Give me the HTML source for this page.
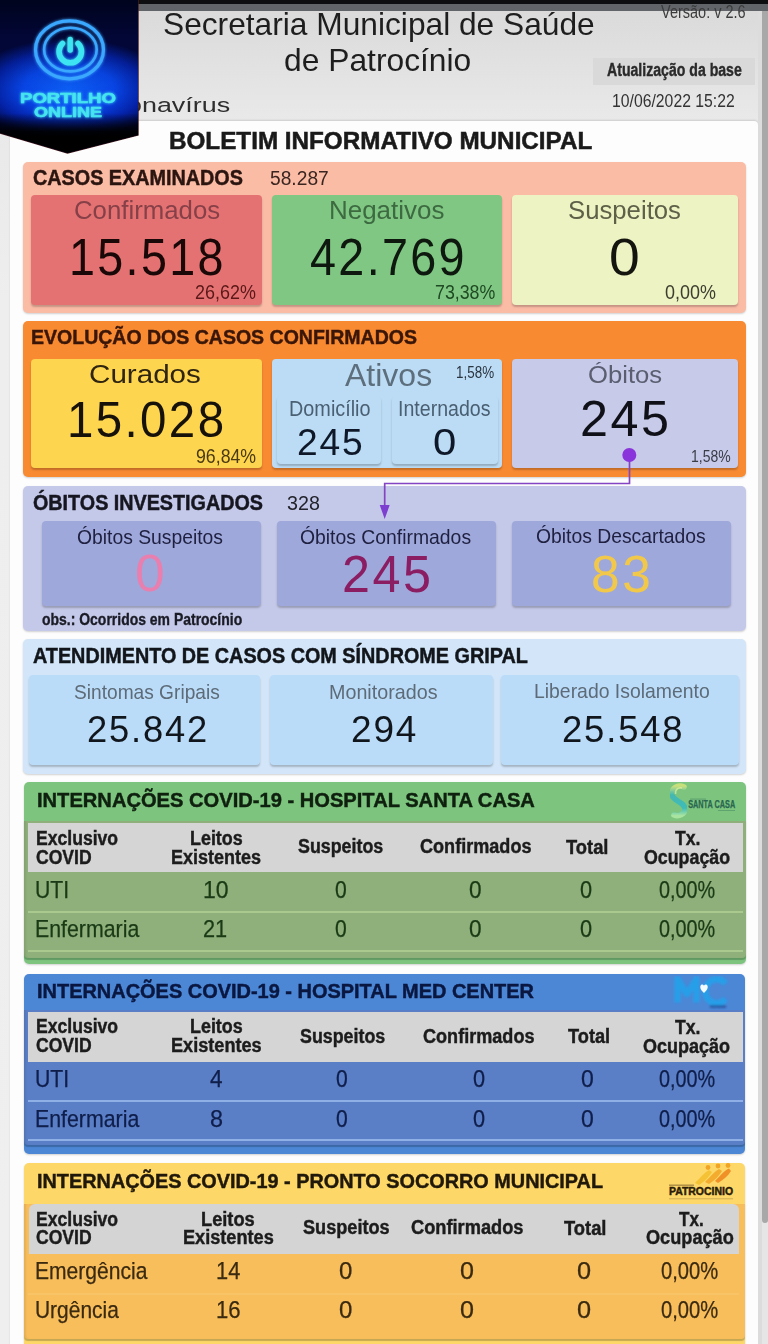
<!DOCTYPE html>
<html><head><meta charset="utf-8"><title>Boletim</title>
<style>
html,body{margin:0;padding:0;}
body{width:768px;height:1344px;position:relative;overflow:hidden;background:#e6e6e6;font-family:"Liberation Sans",sans-serif;}
.b{position:absolute;box-sizing:border-box;}
.t{position:absolute;white-space:nowrap;line-height:1;transform-origin:0 0;}
</style></head><body>
<div class="b" style="left:0px;top:0px;width:768px;height:1344px;background:linear-gradient(#dadada 10px,#e9e9e9 120px,#eeeeee 300px,#efefef);border-radius:0px;"></div>
<div class="b" style="left:10px;top:120.5px;width:748px;height:1279.5px;background:#fdfdfd;border-radius:4px;box-shadow:0 -1px 2px rgba(0,0,0,.12);"></div>
<div class="b" style="left:593px;top:58px;width:162px;height:27px;background:#d9d9d9;border-radius:0px;"></div>
<div class="b" style="left:758px;top:0px;width:10px;height:1344px;background:#e6e6e6;border-radius:0px;"></div>
<div class="b" style="left:758px;top:0px;width:3.5px;height:1344px;background:#dcdcdc;border-radius:0px;"></div>
<div class="b" style="left:761.5px;top:0px;width:6.5px;height:1223px;background:#a8a8a8;border-radius:3px;"></div>
<div class="b" style="left:0px;top:0px;width:768px;height:3.6px;background:#0c0e0f;border-radius:0px;"></div>
<div class="b" style="left:0px;top:3.6px;width:768px;height:7.9px;background:#61656a;border-radius:0px;"></div>
<div class="t" style="left:660.93px;top:3.84px;font-size:17.44px;color:#3c3c3c;transform:scaleX(0.8321);">Versão: v 2.6</div>
<div class="t" style="left:162.57px;top:9.16px;font-size:30.52px;color:#1e1e1e;transform:scaleX(1.0388);">Secretaria Municipal de Saúde</div>
<div class="t" style="left:283.95px;top:46.39px;font-size:30.96px;color:#1e1e1e;transform:scaleX(1.0268);">de Patrocínio</div>
<div class="t" style="left:126.86px;top:93.96px;font-size:21.08px;color:#2e2e2e;transform:scaleX(1.2754);">onavírus</div>
<div class="t" style="left:606.65px;top:61.84px;font-size:17.44px;color:#2a2a2a;transform:scaleX(0.8087);font-weight:700;-webkit-text-stroke:0.38px #2a2a2a;">Atualização da base</div>
<div class="t" style="left:612.42px;top:91.50px;font-size:18.31px;color:#333;transform:scaleX(0.8618);">10/06/2022 15:22</div>
<div class="t" style="left:169.36px;top:128.88px;font-size:24.71px;color:#1a1a1a;transform:scaleX(0.9813);font-weight:700;-webkit-text-stroke:0.54px #1a1a1a;">BOLETIM INFORMATIVO MUNICIPAL</div>
<div class="b" style="left:23px;top:162px;width:723px;height:151px;background:#fbbca6;border-radius:5px;box-shadow:0 1px 2px rgba(0,0,0,.18);"></div>
<div class="t" style="left:32.51px;top:167.04px;font-size:21.22px;color:#2a1510;transform:scaleX(0.9324);font-weight:700;-webkit-text-stroke:0.47px #2a1510;">CASOS EXAMINADOS</div>
<div class="t" style="left:270.23px;top:168.64px;font-size:19.33px;color:#3a2520;transform:scaleX(0.9936);">58.287</div>
<div class="b" style="left:31px;top:195px;width:231px;height:110px;background:#e57272;border-radius:4px;box-shadow:0 2px 2px rgba(0,0,0,.22);"></div>
<div class="b" style="left:272px;top:195px;width:230px;height:110px;background:#7fc783;border-radius:4px;box-shadow:0 2px 2px rgba(0,0,0,.22);"></div>
<div class="b" style="left:512px;top:195px;width:226px;height:110px;background:#eef3c3;border-radius:4px;box-shadow:0 2px 2px rgba(0,0,0,.22);"></div>
<div class="t" style="left:73.71px;top:198.07px;font-size:25.44px;color:#864048;transform:scaleX(1.0137);">Confirmados</div>
<div class="t" style="left:68.50px;top:230.65px;font-size:52.03px;color:#1a0808;transform:scaleX(0.8976);letter-spacing:2.60px;">15.518</div>
<div class="t" style="left:194.70px;top:282.51px;font-size:19.48px;color:#5a1818;transform:scaleX(0.9228);">26,62%</div>
<div class="t" style="left:328.86px;top:197.87px;font-size:25.44px;color:#3d6a40;transform:scaleX(1.0205);">Negativos</div>
<div class="t" style="left:309.55px;top:230.65px;font-size:52.03px;color:#0e180e;transform:scaleX(0.8980);letter-spacing:2.60px;">42.769</div>
<div class="t" style="left:434.71px;top:282.51px;font-size:19.48px;color:#1f4a22;transform:scaleX(0.9135);">73,38%</div>
<div class="t" style="left:568.24px;top:197.87px;font-size:25.44px;color:#5e6048;transform:scaleX(1.0110);">Suspeitos</div>
<div class="t" style="left:609.39px;top:230.65px;font-size:52.03px;color:#151510;transform:scaleX(1.0625);letter-spacing:2.60px;">0</div>
<div class="t" style="left:665.28px;top:282.51px;font-size:19.48px;color:#3e3e30;transform:scaleX(0.9227);">0,00%</div>
<div class="b" style="left:23px;top:321px;width:723px;height:156px;background:#f88a32;border-radius:5px;box-shadow:0 1px 2px rgba(0,0,0,.18);"></div>
<div class="t" style="left:31.48px;top:327.28px;font-size:20.93px;color:#3a1608;transform:scaleX(0.9328);font-weight:700;-webkit-text-stroke:0.46px #3a1608;">EVOLUÇÃO DOS CASOS CONFIRMADOS</div>
<div class="b" style="left:31px;top:358.5px;width:231px;height:109.5px;background:#fdd54e;border-radius:4px;box-shadow:0 2px 2px rgba(0,0,0,.22);"></div>
<div class="b" style="left:272px;top:358.5px;width:230px;height:109.5px;background:#bcdcf5;border-radius:4px;box-shadow:0 2px 2px rgba(0,0,0,.22);"></div>
<div class="b" style="left:512px;top:358.5px;width:226px;height:109.5px;background:#c7cae8;border-radius:4px;box-shadow:0 2px 2px rgba(0,0,0,.22);"></div>
<div class="t" style="left:89.12px;top:361.25px;font-size:26.16px;color:#2e2410;transform:scaleX(1.1317);">Curados</div>
<div class="t" style="left:67.04px;top:395.48px;font-size:50.00px;color:#16120a;transform:scaleX(0.9492);letter-spacing:2.50px;">15.028</div>
<div class="t" style="left:196.16px;top:447.02px;font-size:19.77px;color:#4a3a14;transform:scaleX(0.8963);">96,84%</div>
<div class="t" style="left:344.52px;top:359.55px;font-size:31.25px;color:#5d6e7c;transform:scaleX(1.0238);">Ativos</div>
<div class="t" style="left:455.99px;top:365.47px;font-size:15.99px;color:#2a3540;transform:scaleX(0.8401);">1,58%</div>
<div class="b" style="left:277px;top:395.5px;width:104px;height:68.5px;background:#bcdcf5;border-radius:4px;box-shadow:0 2px 2px rgba(0,0,0,.22);"></div>
<div class="b" style="left:392px;top:395.5px;width:106px;height:68.5px;background:#bcdcf5;border-radius:4px;box-shadow:0 2px 2px rgba(0,0,0,.22);"></div>
<div class="t" style="left:288.86px;top:398.04px;font-size:21.22px;color:#4a5f72;transform:scaleX(0.9348);">Domicílio</div>
<div class="t" style="left:296.74px;top:423.61px;font-size:37.79px;color:#0e1828;transform:scaleX(0.9843);letter-spacing:1.89px;">245</div>
<div class="t" style="left:398.09px;top:398.04px;font-size:21.22px;color:#4a5f72;transform:scaleX(0.9225);">Internados</div>
<div class="t" style="left:433.32px;top:423.61px;font-size:37.79px;color:#0e1828;transform:scaleX(1.1083);letter-spacing:1.89px;">0</div>
<div class="t" style="left:587.78px;top:362.70px;font-size:23.98px;color:#5a5e70;transform:scaleX(1.0693);">Óbitos</div>
<div class="t" style="left:580.48px;top:393.84px;font-size:50.87px;color:#101018;transform:scaleX(0.9890);letter-spacing:2.54px;">245</div>
<div class="t" style="left:691.35px;top:448.65px;font-size:16.72px;color:#3a3c48;transform:scaleX(0.8365);">1,58%</div>
<div class="b" style="left:23px;top:486px;width:723px;height:145px;background:#c5c9e9;border-radius:5px;box-shadow:0 1px 2px rgba(0,0,0,.18);"></div>
<div class="t" style="left:32.51px;top:492.44px;font-size:21.22px;color:#15161f;transform:scaleX(0.9302);font-weight:700;-webkit-text-stroke:0.47px #15161f;">ÓBITOS INVESTIGADOS</div>
<div class="t" style="left:286.76px;top:494.04px;font-size:19.33px;color:#22232c;transform:scaleX(1.0183);">328</div>
<div class="b" style="left:42px;top:521px;width:219px;height:85px;background:#9ea8db;border-radius:4px;box-shadow:0 2px 2px rgba(0,0,0,.22);"></div>
<div class="b" style="left:277px;top:521px;width:219px;height:85px;background:#9ea8db;border-radius:4px;box-shadow:0 2px 2px rgba(0,0,0,.22);"></div>
<div class="b" style="left:512px;top:521px;width:219px;height:85px;background:#9ea8db;border-radius:4px;box-shadow:0 2px 2px rgba(0,0,0,.22);"></div>
<div class="t" style="left:77.08px;top:527.23px;font-size:20.64px;color:#1f2040;transform:scaleX(0.9363);">Óbitos Suspeitos</div>
<div class="t" style="left:135.36px;top:548.04px;font-size:51.45px;color:#e97fae;transform:scaleX(1.0379);letter-spacing:2.57px;">0</div>
<div class="t" style="left:300.08px;top:526.93px;font-size:20.64px;color:#1f2040;transform:scaleX(0.9386);">Óbitos Confirmados</div>
<div class="t" style="left:341.89px;top:548.64px;font-size:51.45px;color:#8b1e62;transform:scaleX(0.9773);letter-spacing:2.57px;">245</div>
<div class="t" style="left:536.08px;top:526.13px;font-size:20.64px;color:#1f2040;transform:scaleX(0.9373);">Óbitos Descartados</div>
<div class="t" style="left:590.51px;top:548.84px;font-size:51.45px;color:#f2c84a;transform:scaleX(0.9998);letter-spacing:2.57px;">83</div>
<div class="t" style="left:42.24px;top:611.73px;font-size:16.86px;color:#1a1b25;transform:scaleX(0.8282);font-weight:700;-webkit-text-stroke:0.37px #1a1b25;">obs.: Ocorridos em Patrocínio</div>
<svg class="b" style="left:0;top:0" width="768" height="640" viewBox="0 0 768 640">
<path d="M629.5 455 V483.5 H384.7 V507" fill="none" stroke="#8444c4" stroke-width="1.7"/>
<path d="M379.7 505 L389.7 505 L384.7 519 Z" fill="#7c3fcf"/>
<circle cx="629.3" cy="455" r="7" fill="#8a34dc"/>
</svg>
<div class="b" style="left:23px;top:639px;width:723px;height:134.5px;background:#d3e6f9;border-radius:5px;box-shadow:0 1px 2px rgba(0,0,0,.18);"></div>
<div class="t" style="left:32.51px;top:645.24px;font-size:21.80px;color:#12151a;transform:scaleX(0.9080);font-weight:700;-webkit-text-stroke:0.48px #12151a;">ATENDIMENTO DE CASOS COM SÍNDROME GRIPAL</div>
<div class="b" style="left:29px;top:674.6px;width:231px;height:90.39999999999998px;background:#bbdcf8;border-radius:4px;box-shadow:0 2px 2px rgba(0,0,0,.22);"></div>
<div class="b" style="left:269.7px;top:674.6px;width:223.7px;height:90.39999999999998px;background:#bbdcf8;border-radius:4px;box-shadow:0 2px 2px rgba(0,0,0,.22);"></div>
<div class="b" style="left:501.2px;top:674.6px;width:237.50000000000006px;height:90.39999999999998px;background:#bbdcf8;border-radius:4px;box-shadow:0 2px 2px rgba(0,0,0,.22);"></div>
<div class="t" style="left:73.54px;top:682.23px;font-size:20.64px;color:#5d6b78;transform:scaleX(0.9282);">Sintomas Gripais</div>
<div class="t" style="left:87.18px;top:711.00px;font-size:37.21px;color:#10161c;transform:scaleX(0.9770);letter-spacing:1.86px;">25.842</div>
<div class="t" style="left:328.97px;top:682.23px;font-size:20.64px;color:#5d6b78;transform:scaleX(0.9564);">Monitorados</div>
<div class="t" style="left:350.65px;top:711.00px;font-size:37.21px;color:#10161c;transform:scaleX(0.9939);letter-spacing:1.86px;">294</div>
<div class="t" style="left:534.40px;top:681.13px;font-size:20.64px;color:#5d6b78;transform:scaleX(0.9400);">Liberado Isolamento</div>
<div class="t" style="left:561.78px;top:710.80px;font-size:37.21px;color:#10161c;transform:scaleX(0.9797);letter-spacing:1.86px;">25.548</div>
<div class="b" style="left:24px;top:781.5px;width:721.5px;height:182.5px;background:#7dc57f;border-radius:5px;box-shadow:0 1px 2px rgba(0,0,0,.18);"></div>
<div class="b" style="left:24px;top:821.3px;width:721.5px;height:136.70000000000005px;background:#8fb07a;border-radius:0 0 4px 4px;box-shadow:0 1.5px 1px rgba(0,0,0,.22), inset 3px 0 2px -1px rgba(0,0,0,.08);"></div>
<div class="b" style="left:27.5px;top:823.3px;width:715.1px;height:49.200000000000045px;background:#d5d5d5;border-radius:0px;border-radius:0px 0px 0 0;"></div>
<div class="b" style="left:27.5px;top:911px;width:715.1px;height:2px;background:#a9c98f;border-radius:0px;"></div>
<div class="b" style="left:27.5px;top:950px;width:715.1px;height:2px;background:#a9c98f;border-radius:0px;"></div>
<div class="t" style="left:37.14px;top:789.53px;font-size:20.64px;color:#0f200f;transform:scaleX(0.9756);font-weight:700;-webkit-text-stroke:0.45px #0f200f;">INTERNAÇÕES COVID-19 - HOSPITAL SANTA CASA</div>
<div class="t" style="left:35.61px;top:829.07px;font-size:19.77px;color:#1c1c1c;transform:scaleX(0.8892);font-weight:700;-webkit-text-stroke:0.43px #1c1c1c;">Exclusivo</div>
<div class="t" style="left:36.10px;top:847.67px;font-size:19.77px;color:#1c1c1c;transform:scaleX(0.8888);font-weight:700;-webkit-text-stroke:0.43px #1c1c1c;">COVID</div>
<div class="t" style="left:189.69px;top:829.07px;font-size:19.77px;color:#1c1c1c;transform:scaleX(0.9057);font-weight:700;-webkit-text-stroke:0.43px #1c1c1c;">Leitos</div>
<div class="t" style="left:171.09px;top:847.67px;font-size:19.77px;color:#1c1c1c;transform:scaleX(0.9095);font-weight:700;-webkit-text-stroke:0.43px #1c1c1c;">Existentes</div>
<div class="t" style="left:298.06px;top:837.27px;font-size:19.77px;color:#1c1c1c;transform:scaleX(0.9027);font-weight:700;-webkit-text-stroke:0.43px #1c1c1c;">Suspeitos</div>
<div class="t" style="left:419.78px;top:837.27px;font-size:19.77px;color:#1c1c1c;transform:scaleX(0.9145);font-weight:700;-webkit-text-stroke:0.43px #1c1c1c;">Confirmados</div>
<div class="t" style="left:565.82px;top:838.07px;font-size:19.77px;color:#1c1c1c;transform:scaleX(0.9280);font-weight:700;-webkit-text-stroke:0.43px #1c1c1c;">Total</div>
<div class="t" style="left:675.22px;top:828.57px;font-size:19.77px;color:#1c1c1c;transform:scaleX(0.8915);font-weight:700;-webkit-text-stroke:0.43px #1c1c1c;">Tx.</div>
<div class="t" style="left:644.29px;top:847.77px;font-size:19.77px;color:#1c1c1c;transform:scaleX(0.9006);font-weight:700;-webkit-text-stroke:0.43px #1c1c1c;">Ocupação</div>
<div class="t" style="left:35.16px;top:879.31px;font-size:23.26px;color:#1a3a16;transform:scaleX(0.9108);-webkit-text-stroke:0.25px #1a3a16;">UTI</div>
<div class="t" style="left:202.67px;top:879.31px;font-size:23.26px;color:#1a3a16;transform:scaleX(0.9915);-webkit-text-stroke:0.25px #1a3a16;">10</div>
<div class="t" style="left:335.05px;top:879.31px;font-size:23.26px;color:#1a3a16;transform:scaleX(0.9095);-webkit-text-stroke:0.25px #1a3a16;">0</div>
<div class="t" style="left:468.70px;top:879.31px;font-size:23.26px;color:#1a3a16;transform:scaleX(0.9726);-webkit-text-stroke:0.25px #1a3a16;">0</div>
<div class="t" style="left:580.13px;top:879.31px;font-size:23.26px;color:#1a3a16;transform:scaleX(0.9365);-webkit-text-stroke:0.25px #1a3a16;">0</div>
<div class="t" style="left:658.91px;top:879.31px;font-size:23.26px;color:#1a3a16;transform:scaleX(0.8522);-webkit-text-stroke:0.25px #1a3a16;">0,00%</div>
<div class="t" style="left:35.04px;top:917.91px;font-size:23.26px;color:#1a3a16;transform:scaleX(0.9172);-webkit-text-stroke:0.25px #1a3a16;">Enfermaria</div>
<div class="t" style="left:203.31px;top:917.91px;font-size:23.26px;color:#1a3a16;transform:scaleX(0.9343);-webkit-text-stroke:0.25px #1a3a16;">21</div>
<div class="t" style="left:335.05px;top:917.91px;font-size:23.26px;color:#1a3a16;transform:scaleX(0.9095);-webkit-text-stroke:0.25px #1a3a16;">0</div>
<div class="t" style="left:468.70px;top:917.91px;font-size:23.26px;color:#1a3a16;transform:scaleX(0.9726);-webkit-text-stroke:0.25px #1a3a16;">0</div>
<div class="t" style="left:580.13px;top:917.91px;font-size:23.26px;color:#1a3a16;transform:scaleX(0.9365);-webkit-text-stroke:0.25px #1a3a16;">0</div>
<div class="t" style="left:658.91px;top:917.91px;font-size:23.26px;color:#1a3a16;transform:scaleX(0.8522);-webkit-text-stroke:0.25px #1a3a16;">0,00%</div>
<div class="b" style="left:23.6px;top:974px;width:721.9px;height:179.5px;background:#4c87d6;border-radius:5px;box-shadow:0 1px 2px rgba(0,0,0,.18);"></div>
<div class="b" style="left:23.6px;top:1009.5px;width:721.9px;height:135.5px;background:#5a7fc6;border-radius:0 0 4px 4px;box-shadow:0 1.5px 1px rgba(0,0,0,.22), inset 3px 0 2px -1px rgba(0,0,0,.08);"></div>
<div class="b" style="left:27.5px;top:1011.5px;width:715.1px;height:50.5px;background:#d5d5d5;border-radius:0px;border-radius:0px 0px 0 0;"></div>
<div class="b" style="left:27.5px;top:1100px;width:715.1px;height:2px;background:#8fb0e6;border-radius:0px;"></div>
<div class="b" style="left:27.5px;top:1139.3px;width:715.1px;height:2.0px;background:#8fb0e6;border-radius:0px;"></div>
<div class="t" style="left:37.15px;top:981.33px;font-size:20.64px;color:#0a1740;transform:scaleX(0.9673);font-weight:700;-webkit-text-stroke:0.45px #0a1740;">INTERNAÇÕES COVID-19 - HOSPITAL MED CENTER</div>
<div class="t" style="left:35.61px;top:1016.87px;font-size:19.77px;color:#1c1c1c;transform:scaleX(0.8892);font-weight:700;-webkit-text-stroke:0.43px #1c1c1c;">Exclusivo</div>
<div class="t" style="left:36.10px;top:1036.27px;font-size:19.77px;color:#1c1c1c;transform:scaleX(0.8888);font-weight:700;-webkit-text-stroke:0.43px #1c1c1c;">COVID</div>
<div class="t" style="left:189.69px;top:1016.87px;font-size:19.77px;color:#1c1c1c;transform:scaleX(0.9057);font-weight:700;-webkit-text-stroke:0.43px #1c1c1c;">Leitos</div>
<div class="t" style="left:171.08px;top:1036.27px;font-size:19.77px;color:#1c1c1c;transform:scaleX(0.9167);font-weight:700;-webkit-text-stroke:0.43px #1c1c1c;">Existentes</div>
<div class="t" style="left:299.76px;top:1027.07px;font-size:19.77px;color:#1c1c1c;transform:scaleX(0.9027);font-weight:700;-webkit-text-stroke:0.43px #1c1c1c;">Suspeitos</div>
<div class="t" style="left:423.18px;top:1027.07px;font-size:19.77px;color:#1c1c1c;transform:scaleX(0.9145);font-weight:700;-webkit-text-stroke:0.43px #1c1c1c;">Confirmados</div>
<div class="t" style="left:568.42px;top:1027.27px;font-size:19.77px;color:#1c1c1c;transform:scaleX(0.9212);font-weight:700;-webkit-text-stroke:0.43px #1c1c1c;">Total</div>
<div class="t" style="left:675.22px;top:1018.27px;font-size:19.77px;color:#1c1c1c;transform:scaleX(0.8915);font-weight:700;-webkit-text-stroke:0.43px #1c1c1c;">Tx.</div>
<div class="t" style="left:643.28px;top:1037.17px;font-size:19.77px;color:#1c1c1c;transform:scaleX(0.9113);font-weight:700;-webkit-text-stroke:0.43px #1c1c1c;">Ocupação</div>
<div class="t" style="left:35.16px;top:1068.41px;font-size:23.26px;color:#0f1e4a;transform:scaleX(0.9108);-webkit-text-stroke:0.25px #0f1e4a;">UTI</div>
<div class="t" style="left:210.49px;top:1068.41px;font-size:23.26px;color:#0f1e4a;transform:scaleX(0.9707);-webkit-text-stroke:0.25px #0f1e4a;">4</div>
<div class="t" style="left:336.05px;top:1068.41px;font-size:23.26px;color:#0f1e4a;transform:scaleX(0.9095);-webkit-text-stroke:0.25px #0f1e4a;">0</div>
<div class="t" style="left:472.73px;top:1068.41px;font-size:23.26px;color:#0f1e4a;transform:scaleX(0.9365);-webkit-text-stroke:0.25px #0f1e4a;">0</div>
<div class="t" style="left:581.38px;top:1068.41px;font-size:23.26px;color:#0f1e4a;transform:scaleX(0.9906);-webkit-text-stroke:0.25px #0f1e4a;">0</div>
<div class="t" style="left:658.91px;top:1068.41px;font-size:23.26px;color:#0f1e4a;transform:scaleX(0.8522);-webkit-text-stroke:0.25px #0f1e4a;">0,00%</div>
<div class="t" style="left:35.04px;top:1107.61px;font-size:23.26px;color:#0f1e4a;transform:scaleX(0.9172);-webkit-text-stroke:0.25px #0f1e4a;">Enfermaria</div>
<div class="t" style="left:210.01px;top:1107.61px;font-size:23.26px;color:#0f1e4a;transform:scaleX(1.0064);-webkit-text-stroke:0.25px #0f1e4a;">8</div>
<div class="t" style="left:336.05px;top:1107.61px;font-size:23.26px;color:#0f1e4a;transform:scaleX(0.9095);-webkit-text-stroke:0.25px #0f1e4a;">0</div>
<div class="t" style="left:472.73px;top:1107.61px;font-size:23.26px;color:#0f1e4a;transform:scaleX(0.9365);-webkit-text-stroke:0.25px #0f1e4a;">0</div>
<div class="t" style="left:581.38px;top:1107.61px;font-size:23.26px;color:#0f1e4a;transform:scaleX(0.9906);-webkit-text-stroke:0.25px #0f1e4a;">0</div>
<div class="t" style="left:658.91px;top:1107.61px;font-size:23.26px;color:#0f1e4a;transform:scaleX(0.8522);-webkit-text-stroke:0.25px #0f1e4a;">0,00%</div>
<div class="b" style="left:23.5px;top:1163px;width:721.5px;height:187px;background:#fdd868;border-radius:5px;box-shadow:0 1px 2px rgba(0,0,0,.18);"></div>
<div class="b" style="left:23.5px;top:1203.5px;width:721.5px;height:135.5px;background:#f9be5c;border-radius:0 0 4px 4px;box-shadow:0 1.5px 1px rgba(0,0,0,.22), inset 3px 0 2px -1px rgba(0,0,0,.08);"></div>
<div class="b" style="left:28.5px;top:1203.5px;width:710.5px;height:50.0px;background:#d4d4d4;border-radius:0px;border-radius:6px 6px 0 0;"></div>
<div class="b" style="left:27.5px;top:1293px;width:711.5px;height:2px;background:#f9c466;border-radius:0px;"></div>
<div class="t" style="left:36.56px;top:1171.43px;font-size:20.64px;color:#20180a;transform:scaleX(0.9623);font-weight:700;-webkit-text-stroke:0.45px #20180a;">INTERNAÇÕES COVID-19 - PRONTO SOCORRO MUNICIPAL</div>
<div class="t" style="left:35.61px;top:1209.97px;font-size:19.77px;color:#1c1c1c;transform:scaleX(0.8892);font-weight:700;-webkit-text-stroke:0.43px #1c1c1c;">Exclusivo</div>
<div class="t" style="left:36.10px;top:1228.27px;font-size:19.77px;color:#1c1c1c;transform:scaleX(0.8888);font-weight:700;-webkit-text-stroke:0.43px #1c1c1c;">COVID</div>
<div class="t" style="left:201.47px;top:1209.97px;font-size:19.77px;color:#1c1c1c;transform:scaleX(0.9235);font-weight:700;-webkit-text-stroke:0.43px #1c1c1c;">Leitos</div>
<div class="t" style="left:182.78px;top:1228.27px;font-size:19.77px;color:#1c1c1c;transform:scaleX(0.9177);font-weight:700;-webkit-text-stroke:0.43px #1c1c1c;">Existentes</div>
<div class="t" style="left:303.16px;top:1218.07px;font-size:19.77px;color:#1c1c1c;transform:scaleX(0.9167);font-weight:700;-webkit-text-stroke:0.43px #1c1c1c;">Suspeitos</div>
<div class="t" style="left:411.27px;top:1218.07px;font-size:19.77px;color:#1c1c1c;transform:scaleX(0.9228);font-weight:700;-webkit-text-stroke:0.43px #1c1c1c;">Confirmados</div>
<div class="t" style="left:563.52px;top:1218.57px;font-size:19.77px;color:#1c1c1c;transform:scaleX(0.9280);font-weight:700;-webkit-text-stroke:0.43px #1c1c1c;">Total</div>
<div class="t" style="left:679.43px;top:1210.07px;font-size:19.77px;color:#1c1c1c;transform:scaleX(0.8656);font-weight:700;-webkit-text-stroke:0.43px #1c1c1c;">Tx.</div>
<div class="t" style="left:646.27px;top:1227.57px;font-size:19.77px;color:#1c1c1c;transform:scaleX(0.9187);font-weight:700;-webkit-text-stroke:0.43px #1c1c1c;">Ocupação</div>
<div class="t" style="left:35.06px;top:1259.61px;font-size:23.26px;color:#3a2a10;transform:scaleX(0.9058);-webkit-text-stroke:0.25px #3a2a10;">Emergência</div>
<div class="t" style="left:216.36px;top:1259.61px;font-size:23.26px;color:#3a2a10;transform:scaleX(0.9390);-webkit-text-stroke:0.25px #3a2a10;">14</div>
<div class="t" style="left:339.34px;top:1259.61px;font-size:23.26px;color:#3a2a10;transform:scaleX(1.0356);-webkit-text-stroke:0.25px #3a2a10;">0</div>
<div class="t" style="left:459.99px;top:1259.61px;font-size:23.26px;color:#3a2a10;transform:scaleX(1.0806);-webkit-text-stroke:0.25px #3a2a10;">0</div>
<div class="t" style="left:576.89px;top:1259.61px;font-size:23.26px;color:#3a2a10;transform:scaleX(1.0896);-webkit-text-stroke:0.25px #3a2a10;">0</div>
<div class="t" style="left:660.99px;top:1259.61px;font-size:23.26px;color:#3a2a10;transform:scaleX(0.8693);-webkit-text-stroke:0.25px #3a2a10;">0,00%</div>
<div class="t" style="left:35.18px;top:1299.31px;font-size:23.26px;color:#3a2a10;transform:scaleX(0.9005);-webkit-text-stroke:0.25px #3a2a10;">Urgência</div>
<div class="t" style="left:216.34px;top:1299.31px;font-size:23.26px;color:#3a2a10;transform:scaleX(0.9531);-webkit-text-stroke:0.25px #3a2a10;">16</div>
<div class="t" style="left:339.34px;top:1299.31px;font-size:23.26px;color:#3a2a10;transform:scaleX(1.0356);-webkit-text-stroke:0.25px #3a2a10;">0</div>
<div class="t" style="left:459.99px;top:1299.31px;font-size:23.26px;color:#3a2a10;transform:scaleX(1.0806);-webkit-text-stroke:0.25px #3a2a10;">0</div>
<div class="t" style="left:576.89px;top:1299.31px;font-size:23.26px;color:#3a2a10;transform:scaleX(1.0896);-webkit-text-stroke:0.25px #3a2a10;">0</div>
<div class="t" style="left:660.99px;top:1299.31px;font-size:23.26px;color:#3a2a10;transform:scaleX(0.8693);-webkit-text-stroke:0.25px #3a2a10;">0,00%</div>

<svg class="b" style="left:0;top:0" width="140" height="158" viewBox="0 0 140 158">
<defs>
<radialGradient id="lg1" cx="69" cy="88" r="80" gradientUnits="userSpaceOnUse" gradientTransform="translate(69 88) scale(1.25 0.62) translate(-69 -88)">
<stop offset="0" stop-color="#0d62ff"/>
<stop offset="0.45" stop-color="#0848f0"/>
<stop offset="0.75" stop-color="#0422a8"/>
<stop offset="1" stop-color="#020840"/>
</radialGradient>
<linearGradient id="lg2" x1="0" y1="0" x2="0" y2="1">
<stop offset="0" stop-color="#000" stop-opacity="0.55"/>
<stop offset="0.25" stop-color="#000" stop-opacity="0.15"/>
<stop offset="0.74" stop-color="#000" stop-opacity="0"/>
<stop offset="0.86" stop-color="#000" stop-opacity="0.92"/>
<stop offset="0.9" stop-color="#000" stop-opacity="1"/>
<stop offset="1" stop-color="#000" stop-opacity="1"/>
</linearGradient>
<filter id="glow" x="-30%" y="-30%" width="160%" height="160%"><feGaussianBlur stdDeviation="1.6" result="b"/><feMerge><feMergeNode in="b"/><feMergeNode in="SourceGraphic"/></feMerge></filter>
</defs>
<path d="M0 0 H138 V135 L67.5 153 L0 133 Z" fill="#020418" stroke="#4a1a1a" stroke-width="1.4"/>
<path d="M0 0 H138 V135 L67.5 153 L0 133 Z" fill="url(#lg1)"/>
<path d="M0 0 H138 V135 L67.5 153 L0 133 Z" fill="url(#lg2)"/>
<g filter="url(#glow)" fill="none">
<ellipse cx="69.5" cy="49.8" rx="34" ry="29" stroke="#3aa8ff" stroke-width="3.2"/>
<ellipse cx="70.4" cy="49.6" rx="26.3" ry="21.8" stroke="#3aa8ff" stroke-width="2.6"/>
<path d="M62.5 43.5 A11.2 11.2 0 1 0 78 43.5" stroke="#3ee4f2" stroke-width="5.6" stroke-linecap="round"/>
<path d="M70.2 39.5 V50" stroke="#3ee4f2" stroke-width="5.4" stroke-linecap="round"/>
</g>
<g fill="#45e4f0" stroke="#45e4f0" stroke-width="0.5" font-family="Liberation Sans" font-weight="700" filter="url(#glow)">
<text x="20" y="103.2" font-size="14.5" textLength="96" lengthAdjust="spacingAndGlyphs">PORTILHO</text>
<text x="34" y="116.8" font-size="14.5" textLength="68" lengthAdjust="spacingAndGlyphs">ONLINE</text>
</g>
</svg>
<svg class="b" style="left:660px;top:776px" width="85" height="44" viewBox="0 0 85 44">
<defs><linearGradient id="scg" x1="0" y1="0" x2="0" y2="1"><stop offset="0" stop-color="#c8e07a"/><stop offset="0.3" stop-color="#44b8b0"/><stop offset="0.75" stop-color="#40bcb8"/><stop offset="1" stop-color="#a8e4a0"/></linearGradient>
<filter id="scb"><feGaussianBlur stdDeviation="0.7"/></filter></defs>
<g filter="url(#scb)">
<path d="M24 11 C18 8 11 12 12 19 C13 25 25 26 25 33 C25 38 19 41 14 39" fill="none" stroke="url(#scg)" stroke-width="5.5" stroke-linecap="round"/>
<path d="M22 12 C18 11 15 14 15.5 18" fill="none" stroke="#e0f0a0" stroke-width="1.6" opacity=".7"/>
</g>
<text x="28.2" y="32.2" font-family="Liberation Sans" font-weight="700" font-size="10.4" fill="#2a6650" stroke="#2a6650" stroke-width=".25" textLength="47" lengthAdjust="spacingAndGlyphs">SANTA CASA</text>
<rect x="30" y="22.5" width="16" height="1.2" fill="#3a7a60" opacity=".45"/>
<rect x="58" y="34" width="17" height="1" fill="#3a7a60" opacity=".45"/>
</svg>
<svg class="b" style="left:670px;top:972px" width="70" height="40" viewBox="0 0 70 40"><defs><filter id="mcb"><feGaussianBlur stdDeviation="0.8"/></filter></defs><g filter="url(#mcb)">
<path d="M7.5 30.5 V7 L17 22 L26.5 7 V30.5" fill="none" stroke="#1ea6ee" stroke-width="6.4" stroke-linejoin="round" opacity=".75"/>
<path d="M55.5 11.5 A11.5 12 0 1 0 55.5 27" fill="none" stroke="#1ea6ee" stroke-width="6.4" opacity=".75"/>
<rect x="40" y="33.4" width="16" height="2.2" fill="#15307a" opacity=".7"/>
</g><path d="M34 21 C29.5 17.5 29.5 13.5 31.7 12.6 C33 12.1 34 13 34 14 C34 13 35 12.1 36.3 12.6 C38.5 13.5 38.5 17.5 34 21 Z" fill="#f2fbff"/>
</svg>
<svg class="b" style="left:655px;top:1160px" width="90" height="44" viewBox="0 0 90 44">
<g fill="#f0a020" opacity=".9">
<ellipse cx="53" cy="7.5" rx="2.4" ry="2.4"/><ellipse cx="63" cy="6" rx="2.4" ry="2.4"/><ellipse cx="73" cy="5.5" rx="2.4" ry="2.4"/>
<path d="M40 23 C46 17 50 12 54 10 L57 12 C54 17 50 21 44 25 Z" fill="#f5c030"/>
<path d="M50 22 C56 16 60 11 64 9 L67 11 C64 16 60 20 54 24 Z" fill="#f2a828"/>
<path d="M60 21 C66 15 70 10 74 8.5 L76 11 C73 16 69 19 63 23 Z" fill="#ee8a20"/>
</g>
<rect x="14" y="24.5" width="25" height="1.4" fill="#5a4020" opacity=".5"/>
<text x="14" y="35.3" font-family="Liberation Sans" font-weight="700" font-size="10.5" fill="#2a1c08" stroke="#2a1c08" stroke-width=".45" textLength="64" lengthAdjust="spacingAndGlyphs">PATROCINIO</text>
<rect x="14" y="38.3" width="64" height="1" fill="#7a6030" opacity=".35"/>
</svg>

</body></html>
